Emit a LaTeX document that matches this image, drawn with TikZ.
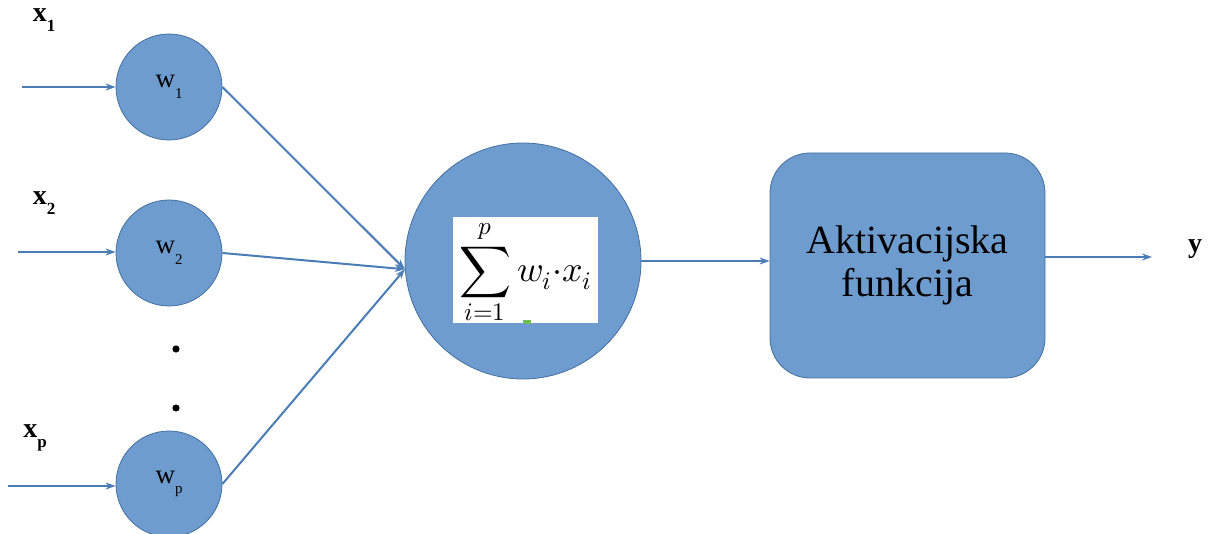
\documentclass[tikz,border=0pt]{standalone}
\usepackage{unicode-math}
\setmainfont{Liberation Serif}
\setmathfont{Latin Modern Math}
\usetikzlibrary{arrows.meta}
\definecolor{nfill}{RGB}{110,156,207}
\definecolor{nborder}{RGB}{66,112,160}
\definecolor{nline}{RGB}{74,124,182}
\definecolor{mkgreen}{RGB}{110,190,80}
\begin{document}
\begin{tikzpicture}[x=1pt,y=1pt,
  wnode/.style={circle,fill=nfill,draw=nborder,line width=0.8pt,minimum size=106pt,inner sep=0pt,
    font=\fontsize{27}{29}\selectfont},
  conn/.style={draw=nline,line width=2pt,-{Stealth[length=10pt,width=7pt]}},
  inlabel/.style={font=\fontsize{28}{30}\selectfont\bfseries,inner sep=0pt}]
\useasboundingbox (0,0) rectangle (1215,533);
% weight nodes
\node[wnode] (w1) at (169,446) {w\raisebox{-0.4em}{\fontsize{15}{15}\selectfont 1}};
\node[wnode] (w2) at (169,280) {w\raisebox{-0.4em}{\fontsize{15}{15}\selectfont 2}};
\node[wnode] (wp) at (169,49) {w\raisebox{-0.4em}{\fontsize{15}{15}\selectfont p}};
% sum node
\node[circle,fill=nfill,draw=nborder,line width=0.8pt,minimum size=236pt,inner sep=0pt] (sum) at (523,272) {};
\node[fill=white,minimum width=145pt,minimum height=106pt,inner sep=0pt] (box) at (525.5,263) {};
\node[inner sep=0pt,font=\fontsize{36}{40}\selectfont] (formula) at ([yshift=-2pt]box.center) {$\displaystyle\sum_{i=1}^{p} w_i{\cdot}x_i$};
\fill[mkgreen] (523,209) rectangle (531,213);
% activation
\node[rectangle,rounded corners=40pt,fill=nfill,draw=nborder,line width=0.8pt,minimum width=275pt,minimum height=225pt,
  align=center,font=\fontsize{40}{43}\selectfont] (act) at (907.5,267.5) {Aktivacijska\\funkcija};
% labels
\node[inlabel] (lx1) at (44,513) {x\raisebox{-0.35em}{\fontsize{17}{17}\selectfont 1}};
\node[inlabel] (lx2) at (44,330) {x\raisebox{-0.35em}{\fontsize{17}{17}\selectfont 2}};
\node[inlabel] (lxp) at (35,95) {x\raisebox{-0.35em}{\fontsize{17}{17}\selectfont p}};
\node[inlabel] (ly) at (1195,284) {y};
% dots
\fill (176,184) circle (3.6);
\fill (176,125) circle (3.6);
% connectors
\coordinate (in1) at (22,446);
\coordinate (in2) at (18,281);
\coordinate (inp) at (8,47);
\coordinate (yend) at (1152,276);
\draw[conn] (in1) -- (in1 -| w1.west);
\draw[conn] (in2) -- (in2 -| w2.west);
\draw[conn] (inp) -- (inp -| wp.west);
\draw[conn] (w1.east) -- (sum.184);
\draw[conn] (w2.east) -- (sum.184);
\draw[conn] (wp.east) -- (sum.184);
\draw[conn] (sum.east) -- (sum.east -| act.west);
\draw[conn] (yend -| act.east) -- (yend);
\end{tikzpicture}
\end{document}
